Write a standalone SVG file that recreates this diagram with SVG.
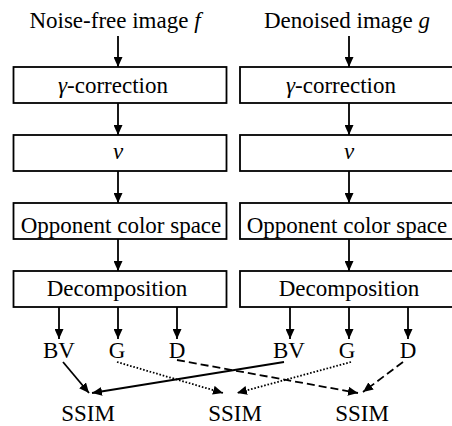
<svg xmlns="http://www.w3.org/2000/svg" width="452" height="426" viewBox="0 0 452 426">
<defs>
<marker id="ah" markerUnits="userSpaceOnUse" markerWidth="10" markerHeight="9" refX="10" refY="4.5" orient="auto">
<path d="M0,0 L10,4.5 L0,9 z" fill="#000"/>
</marker>
<style>
.box{fill:#fff;stroke:#000;stroke-width:1.8}
.c{stroke:#000;stroke-width:1.8;fill:none;marker-end:url(#ah)}
.dot{stroke-dasharray:1.6,1.8}
.dash{stroke-dasharray:8,4}
.it{font-style:italic}
</style>
</defs>
<rect width="452" height="426" fill="#fff"/>
<g id="connectors">
<line class="c" x1="118" y1="36" x2="118" y2="67"/>
<line class="c" x1="118" y1="103" x2="118" y2="135"/>
<line class="c" x1="118" y1="171" x2="118" y2="203"/>
<line class="c" x1="118" y1="239" x2="118" y2="271"/>
<line class="c" x1="349" y1="36" x2="349" y2="67"/>
<line class="c" x1="349" y1="103" x2="349" y2="135"/>
<line class="c" x1="349" y1="171" x2="349" y2="203"/>
<line class="c" x1="349" y1="239" x2="349" y2="271"/>
<line class="c" x1="59" y1="307" x2="59" y2="339"/>
<line class="c" x1="118" y1="307" x2="118" y2="339"/>
<line class="c" x1="177" y1="307" x2="177" y2="339"/>
<line class="c" x1="290" y1="307" x2="290" y2="339"/>
<line class="c" x1="349" y1="307" x2="349" y2="339"/>
<line class="c" x1="408" y1="307" x2="408" y2="339"/>
<line class="c" x1="63" y1="362" x2="89" y2="393"/>
<line class="c" x1="284" y1="362" x2="92" y2="393"/>
<line class="c dot" x1="117" y1="362" x2="223" y2="393"/>
<line class="c dot" x1="351" y1="362" x2="237" y2="393"/>
<line class="c dash" x1="177" y1="360" x2="358" y2="393"/>
<line class="c dash" x1="403" y1="362" x2="363" y2="392"/>
</g>
<g font-family="Liberation Serif, Times New Roman, serif" font-size="23" text-anchor="middle" fill="#000">
<g id="title-f"><text x="115" y="28">Noise-free image <tspan class="it">f</tspan></text></g>
<g id="title-g"><text x="347" y="28">Denoised image <tspan class="it">g</tspan></text></g>
<g id="gamma-l"><rect class="box" x="13.5" y="67" width="213" height="36"/><text x="113" y="93"><tspan class="it">γ</tspan>-correction</text></g>
<g id="gamma-r"><rect class="box" x="240" y="67" width="220" height="36"/><text x="341" y="93"><tspan class="it">γ</tspan>-correction</text></g>
<g id="nu-l"><rect class="box" x="13.5" y="135" width="213" height="36"/><text class="it" x="118" y="159">ν</text></g>
<g id="nu-r"><rect class="box" x="240" y="135" width="220" height="36"/><text class="it" x="349" y="159">ν</text></g>
<g id="opp-l"><rect class="box" x="13.5" y="203" width="213" height="36"/><text x="121" y="233">Opponent color space</text></g>
<g id="opp-r"><rect class="box" x="240" y="203" width="220" height="36"/><text x="347" y="233">Opponent color space</text></g>
<g id="dec-l"><rect class="box" x="13.5" y="271" width="213" height="36"/><text x="117" y="296">Decomposition</text></g>
<g id="dec-r"><rect class="box" x="240" y="271" width="220" height="36"/><text x="349" y="296">Decomposition</text></g>
<g id="bv-l"><text x="59" y="358">BV</text></g>
<g id="g-l"><text x="117" y="358">G</text></g>
<g id="d-l"><text x="177" y="358">D</text></g>
<g id="bv-r"><text x="289" y="358">BV</text></g>
<g id="g-r"><text x="347" y="358">G</text></g>
<g id="d-r"><text x="408" y="358">D</text></g>
<g id="ssim-1"><text x="88" y="421">SSIM</text></g>
<g id="ssim-2"><text x="235" y="421">SSIM</text></g>
<g id="ssim-3"><text x="362" y="421">SSIM</text></g>
</g>
</svg>
